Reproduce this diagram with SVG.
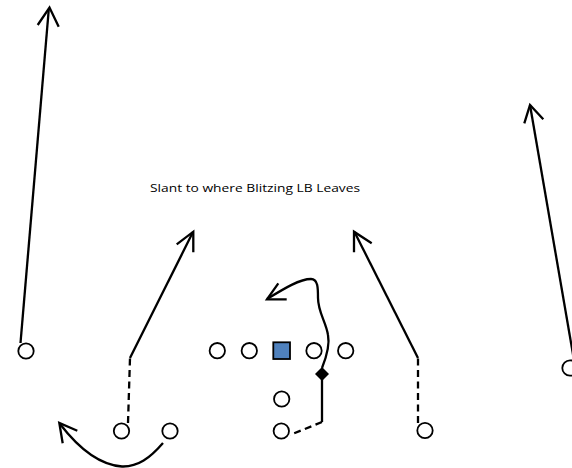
<svg xmlns="http://www.w3.org/2000/svg" width="572" height="468" viewBox="0 0 572 468">
<style>
.p{fill:#fff;stroke:#000;stroke-width:1.8}
.r{fill:none;stroke:#000;stroke-width:2.3;stroke-linecap:butt;stroke-linejoin:miter}
.d{stroke-dasharray:7,4.5}
.t{font-family:"Open Sans","Liberation Sans",sans-serif;font-size:11.5px;fill:#000}
</style>
<rect width="572" height="468" fill="#fff"/>
<g id="connectors">
<path class="r" d="M20.5,343 L48.8,9"/>
<path class="r" d="M37.7,25 L49.5,7.5 L58.7,26.7"/>
<path class="r d" d="M128,423 L130,358"/>
<path class="r" d="M130,358 L193,232"/>
<path class="r" d="M176.7,244.3 L193.3,231.7 L193.3,252.3"/>
<path class="r" d="M163,443 C150,458 138,467 122,466.5 C100,465 80,450 60,424"/>
<path class="r" d="M77.3,430.7 L59.3,423 L62.7,443.3"/>
<path class="r d" d="M418,423 L418,358"/>
<path class="r" d="M418,358 L354.5,232"/>
<path class="r" d="M354,252.3 L354,231.7 L371.7,243.3"/>
<path class="r" d="M574,360 L530,105"/>
<path class="r" d="M524.3,123.3 L530,105 L543.3,119.3"/>
<path class="r" d="M322,368 C326,358 330,345 328,335 C326,322 318,312 318,298 C318,288 318,279 311,279 C300,279 285,288 267,299"/>
<path class="r" d="M278.3,283.3 L267,299.3 L286.7,299.3"/>
<path class="r" d="M322,374 L322,422"/>
<path class="r d" d="M322,422 L290,435"/>
</g>
<g id="lwr"><circle class="p" cx="26" cy="351" r="7.7"/></g>
<g id="lslot"><circle class="p" cx="121.5" cy="431" r="7.7"/></g>
<g id="lback"><circle class="p" cx="170" cy="431" r="7.7"/></g>
<g id="lt"><circle class="p" cx="217.3" cy="350.7" r="7.7"/></g>
<g id="lg"><circle class="p" cx="249.3" cy="350.7" r="7.7"/></g>
<g id="center"><rect x="273.3" y="342.3" width="16.7" height="16.7" fill="#4F81BD" stroke="#000" stroke-width="1.8"/></g>
<g id="rg"><circle class="p" cx="314" cy="350.7" r="7.7"/></g>
<g id="rt"><circle class="p" cx="345.7" cy="350.7" r="7.7"/></g>
<g id="qb"><circle class="p" cx="281.7" cy="399" r="7.7"/></g>
<g id="rb"><circle class="p" cx="281.3" cy="431" r="7.7"/></g>
<g id="te"><path d="M322,367 L329,374 L322,381 L315,374 Z" fill="#000"/></g>
<g id="rslot"><circle class="p" cx="425" cy="430.5" r="7.7"/></g>
<g id="rwr"><circle class="p" cx="570" cy="368" r="7.7"/></g>
<g id="label"><text class="t" x="150" y="191.5" textLength="210" lengthAdjust="spacingAndGlyphs">Slant to where Blitzing LB Leaves</text></g>
</svg>
